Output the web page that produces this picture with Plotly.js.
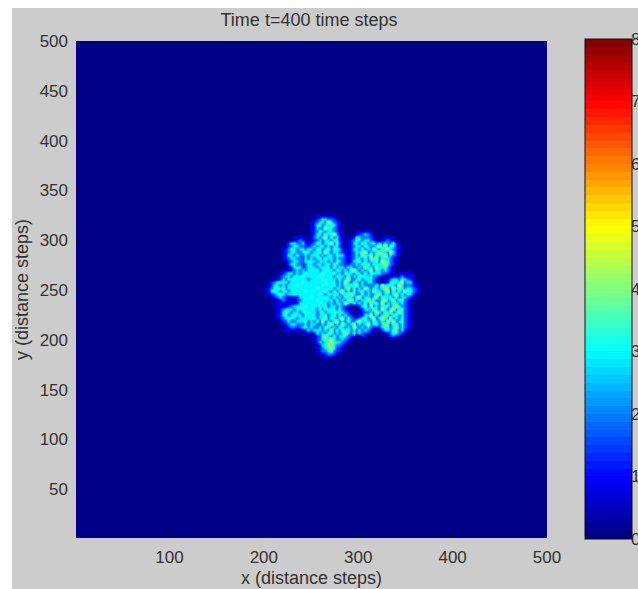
<!DOCTYPE html>
<html>
<head>
<meta charset="utf-8">
<script src="https://cdn.plot.ly/plotly-3.0.1.min.js"></script>
<style>
html,body{margin:0;padding:0;background:#fff;overflow:hidden;width:638px;height:589px}
#chart{position:absolute;left:12px;top:8px;width:626px;height:581px}
</style>
</head>
<body>
<div id="chart"></div>
<script>
const chartTitle = 'Time t=400 time steps';
const xTitle = 'x (distance steps)';
const yTitle = 'y (distance steps)';
const xTicks = [100, 200, 300, 400, 500];
const yTicks = [50, 100, 150, 200, 250, 300, 350, 400, 450, 500];
const barTicks = [0, 1, 2, 3, 4, 5, 6, 7, 8];

// Cell values, top row first, 3 distance steps per cell.
// Each digit is a colour level looked up in densityLevels (6 is the faint outer fringe).
// Spaces only group the digits in tens; rows end where the blob ends.
const densityLevels = [0, 1.3, 1.9, 2.9, 3.4, 4.6, 0.75];
const xStart = 190, yStart = 330, cellSize = 3, rowLength = 60;
const densityRows = [
"0",
"0",
"0000000000 0000000000 0066666660",
"0000000000 0000000000 0612332216",
"0000000000 0000000000 6123325321 6",
"0000000000 0000000000 6134233431 6",
"0000000000 0000000000 6132254321 6",
"0000000000 0000000000 6124323321 6000006666 66",
"0000000000 0000000000 6133243352 1600006123 216",
"0000000000 0000666660 6232352423 1600613322 2160066666",
"0000000000 0000612160 6123233243 1606124323 3216061216",
"0000000000 0613322316 1243233524 2606133243 2342323224 16",
"0000000000 0612332211 2323423233 1606123324 3223535243 16",
"0000000000 6124323323 3243234243 3166133242 3253244532 16",
"0000000000 6123322343 2334253233 2166123345 2324543253 16",
"0000000000 6133242232 3342323324 3316123253 3524345232 16",
"0000000000 6123322132 3234243323 2216123324 2535243321 6",
"0000000000 0612332233 3323332324 3216133424 2334254321 6",
"0000000000 0613322123 3233234243 2211223243 4243345321 6",
"0000000000 0061333123 3323333242 3323322325 3325334216",
"0000000000 6661232323 3342334324 3232453232 3523323216",
"0000000006 1233232343 3333433342 3243324324 2433322166 066666",
"0000000061 2332333433 3334333324 3324232443 3322160066 6121666",
"0000000061 3233433332 3333433332 4235223423 3321606123 3243216",
"0000061234 3323333433 3333343332 3253243232 3321606134 33523316",
"0000061332 3233343333 3333433342 3243435232 2224253443 25322216",
"0000612343 4233333333 3343333423 3235242325 3233245325 344233216",
"0000613432 3323333343 3333343242 3523242342 3253324524 242534216",
"0000661234 3233433333 3334323334 2344532242 3224523324 52423316",
"0000006123 2166613333 4333343242 3243324523 3235243342 4233216",
"0000000061 2166612333 3343333324 2324523233 5342245235 244216",
"0000000066 6666613333 3334332323 3253242324 2534252324 423216",
"0000000666 6612333343 3333342332 3216006134 2523244324 532216",
"0000000061 2333233433 3324243332 4216000613 3253253245 244216",
"0000000061 3432332343 3323423343 3321600612 2325324352 353216",
"0000000061 3323433233 3323342342 4232160613 3523235324 423216",
"0000000061 2343323333 3423352432 3524211234 2352354252 324216",
"0000000006 1232233342 3242523245 2324223533 3243242535 234216",
"0000000000 6123322232 3322324523 2532352323 5234235324 423216",
"0000000000 0612212342 3223244232 4323253232 3211134423 523216",
"0000000000 6666666613 2333232524 2434232323 2160613324 42316",
"0000000000 0000000666 6132324423 2353242321 1600006124 3216",
"0000000000 0000000000 0612353242 3332110011 0000000612 16",
"0000000000 0000000000 0612344532 23216",
"0000000000 0000000000 0613234543 3216",
"0000000000 0000000000 0061335432 216",
"0000000000 0000000000 0061234531 16",
"0000000000 0000000000 0061223421 16",
"0000000000 0000000000 0006612216",
"0000000000 0000000000 0000666660"
];

const densityZ = densityRows.map(r => r.replace(/ /g, '').padEnd(rowLength, '0').slice(0, rowLength).split('').map(d => densityLevels[+d]));
const xCells = densityZ[0].map((_, j) => xStart + cellSize * j);
const yCells = densityZ.map((_, i) => yStart - cellSize * i);

// MATLAB jet, 64 flat colour bands
function jetBand(i) {
  const t = (i + 0.5) / 64;
  const f = c => Math.round(255 * Math.max(0, Math.min(1, c)));
  return 'rgb(' + f(1.5 - Math.abs(4 * t - 3)) + ',' + f(1.5 - Math.abs(4 * t - 2)) + ',' + f(1.5 - Math.abs(4 * t - 1)) + ')';
}
const jetScale = [];
for (let i = 0; i < 64; i++) {
  jetScale.push([i / 64, jetBand(i)]);
  jetScale.push([(i + 1) / 64, jetBand(i)]);
}

const fam = 'Liberation Sans, Arial, sans-serif';
const tickFont = {family: fam, size: 17, color: '#333'};
const labelFont = {family: fam, size: 18, color: '#333'};

const trace = {
  type: 'heatmap',
  x: xCells,
  y: yCells,
  z: densityZ,
  zmin: 0,
  zmax: 8,
  zsmooth: 'best',
  colorscale: jetScale,
  colorbar: {
    xref: 'paper', yref: 'paper',
    x: 509 / 556, xanchor: 'left', xpad: 0,
    y: 0, yanchor: 'bottom', ypad: 0,
    len: 1, lenmode: 'fraction',
    thickness: 47, thicknessmode: 'pixels',
    outlinewidth: 1, outlinecolor: '#111',
    borderwidth: 0,
    ticks: '', showticklabels: false
  }
};

// Empty companion subplot on top of the colour bar: it carries the bar's two-sided ticks and its labels.
const barTicksTrace = {type: 'scatter', x: [], y: [], xaxis: 'x2', yaxis: 'y2', showlegend: false, hoverinfo: 'skip'};

const layout = {
  width: 626,
  height: 581,
  paper_bgcolor: '#cccccc',
  plot_bgcolor: 'rgba(0,0,0,0)',
  showlegend: false,
  margin: {l: 64, r: 6, t: 31, b: 50, autoexpand: false},
  title: {text: chartTitle, font: labelFont, x: 297 / 626, xanchor: 'center', y: 1 - 12 / 581, yanchor: 'middle'},
  xaxis: {
    domain: [0, 471 / 556],
    title: {text: xTitle, font: labelFont, standoff: 5},
    range: [1, 500], tickmode: 'array', tickvals: xTicks, ticks: 'inside', ticklen: 3, tickcolor: '#111',
    showgrid: false, zeroline: false, showline: false, tickfont: tickFont, ticklabelstandoff: 7
  },
  yaxis: {
    domain: [1 / 500, 498 / 500],
    title: {text: yTitle, font: labelFont, standoff: 6},
    range: [1, 500], tickmode: 'array', tickvals: yTicks, ticks: 'inside', ticklen: 3, tickcolor: '#111',
    showgrid: false, zeroline: false, showline: false, tickfont: tickFont, ticklabelstandoff: 7
  },
  xaxis2: {domain: [509 / 556, 1], range: [0, 1], anchor: 'y2', visible: false, fixedrange: true},
  yaxis2: {
    domain: [0, 1], range: [0, 8], anchor: 'x2', side: 'right', mirror: 'ticks', fixedrange: true,
    tickmode: 'array', tickvals: barTicks, ticks: 'inside', ticklen: 4, tickcolor: '#111',
    tickfont: tickFont, ticklabelstandoff: -2,
    showgrid: false, zeroline: false, showline: false
  },
  shapes: [{type: 'rect', layer: 'below', xref: 'x domain', yref: 'y domain', x0: 0, x1: 1, y0: 0, y1: 1, line: {width: 0}, fillcolor: jetBand(0)}]
};

Plotly.newPlot('chart', [trace, barTicksTrace], layout, {displayModeBar: false, responsive: false});
</script>
</body>
</html>
